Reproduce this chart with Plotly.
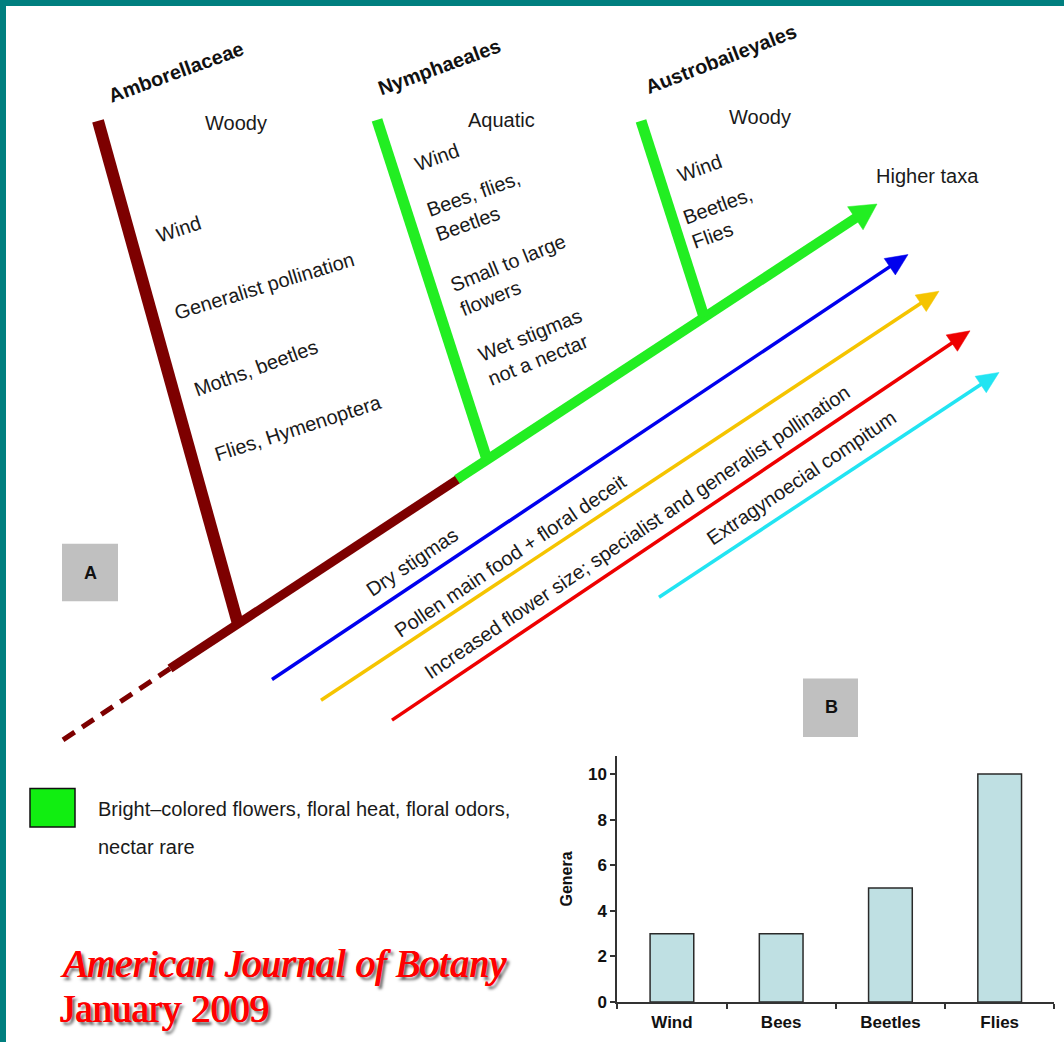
import numpy as np
import plotly.graph_objects as go

W, H = 1064, 1052
SANS = "Liberation Sans, Arial, sans-serif"
SERIF = "Liberation Serif, Times New Roman, serif"

# ---- Panel B data: pollinator classes of basal angiosperm genera ----
pollinators = ["Wind", "Bees", "Beetles", "Flies"]
genera = [3, 3, 5, 10]
genera_ticks = [0, 2, 4, 6, 8, 10]

# ---- Panel A text content ----
clades = ["Amborellaceae", "Nymphaeales", "Austrobaileyales"]
amborella_traits = ["Woody", "Wind", "Generalist pollination", "Moths, beetles", "Flies, Hymenoptera"]
nymphaeales_traits = ["Aquatic", "Wind", "Bees, flies,<br>Beetles", "Small to large<br>flowers",
                      "Wet stigmas<br>not a nectar"]
austro_traits = ["Woody", "Wind", "Beetles,<br>Flies"]
trend_labels = ["Dry stigmas", "Pollen main food + floral deceit",
                "Increased flower size; specialist and generalist pollination",
                "Extragynoecial compitum"]
legend_lines = ["Bright\u2013colored flowers, floral heat, floral odors,", "nectar rare"]

# colours
MAROON = "#7d0000"
GREEN = "#22ee22"
BLUE = "#0000ee"
GOLD = "#f5c400"
RED = "#ee0000"
CYAN = "#22e4f2"
TEAL = "#007f7f"

fig = go.Figure()


def seg(p0, p1, color, width, dash=None):
    fig.add_trace(go.Scatter(
        x=[p0[0], p1[0]], y=[p0[1], p1[1]], mode="lines",
        line=dict(color=color, width=width, dash=dash),
        xaxis="x2", yaxis="y2", hoverinfo="skip", showlegend=False))


def arrow(p0, tip, color, width, head_len, head_w):
    p0 = np.asarray(p0, float)
    tip = np.asarray(tip, float)
    u = (tip - p0) / np.linalg.norm(tip - p0)
    n = np.array([-u[1], u[0]])
    base = tip - head_len * u
    seg(p0, base + 2 * u, color, width)
    tri = np.array([tip, base + n * head_w / 2, base - n * head_w / 2, tip])
    fig.add_trace(go.Scatter(
        x=tri[:, 0], y=tri[:, 1], mode="lines", fill="toself",
        fillcolor=color, line=dict(color=color, width=0.5),
        xaxis="x2", yaxis="y2", hoverinfo="skip", showlegend=False))


# ---- Panel A: phylogeny ----
seg((63, 747), (170, 675), MAROON, 5, dash="14px,9px")
seg((170, 675), (459, 483), MAROON, 9)
arrow((457, 484), (877, 206), GREEN, 10, 26, 28)
seg((98, 122), (238, 630), MAROON, 12)
seg((377, 121), (487, 464), GREEN, 11)
seg((641, 122), (704, 320), GREEN, 11)

# trend arrows under the tree
arrow((272, 686), (908, 257), BLUE, 3.5, 22, 20)
arrow((321, 707), (939, 294), GOLD, 3.5, 22, 20)
arrow((392, 727), (970, 334), RED, 3.5, 22, 20)
arrow((659, 603), (999, 376), CYAN, 3.5, 22, 20)

annotations = []


def label(text, x, y, angle=0, size=20, color="#1a1a1a", family=SANS, bold=False,
          align="center", **kw):
    t = f"<b>{text}</b>" if bold else text
    annotations.append(dict(
        text=t, x=x, y=y, xref="x2", yref="y2", showarrow=False, textangle=angle,
        font=dict(family=family, size=size, color=color),
        align=align, **kw))


# clade names
label(clades[0], 176, 73, -20, 20, bold=True, color="#111")
label(clades[1], 439, 68, -20, 20, bold=True, color="#111")
label(clades[2], 721, 60, -21, 20, bold=True, color="#111")

# Amborellaceae traits
label(amborella_traits[0], 236, 124)
label(amborella_traits[1], 179, 231, -18)
label(amborella_traits[2], 264, 289, -17)
label(amborella_traits[3], 256, 372, -20)
label(amborella_traits[4], 298, 432, -18)

# Nymphaeales traits
label(nymphaeales_traits[0], 501, 121)
label(nymphaeales_traits[1], 437, 158, -20)
label(nymphaeales_traits[2], 478, 208, -20, align="left")
label(nymphaeales_traits[3], 513, 278, -22, align="left")
label(nymphaeales_traits[4], 535, 350, -22, align="left")

# Austrobaileyales traits
label(austro_traits[0], 760, 118)
label(austro_traits[1], 700, 170, -20)
label(austro_traits[2], 722, 220, -20, align="left")

label("Higher taxa", 927, 178)

# trend labels along the arrows
label(trend_labels[0], 412, 567, -34)
label(trend_labels[1], 510, 561, -34)
label(trend_labels[2], 637, 537, -34)
label(trend_labels[3], 801, 483, -34)

# panel letters
label("A", 90, 578, 0, 18, bold=True, color="#111")
label("B", 831, 714, 0, 18, bold=True, color="#111")

# legend for the green clade colour
label(legend_lines[0], 96, 817, 0, 20, xanchor="left")
label(legend_lines[1], 96, 855, 0, 20, xanchor="left")

# y-axis title of panel B
label("Genera", 567, 888, -90, 16, bold=True, color="#111")

# citation, red serif with a soft drop shadow
shadow = ("0.8px 0 0 #ff0000, -0.4px 0 0 #ff0000, "
          "3px 3px 3px rgba(0,0,0,0.65)")
annotations.append(dict(
    text="<i>American Journal of Botany</i>", x=58, y=973, xref="x2", yref="y2",
    showarrow=False, xanchor="left",
    font=dict(family=SERIF, size=39, color="#ff0000", shadow=shadow)))
annotations.append(dict(
    text="January 2009", x=58, y=1019, xref="x2", yref="y2",
    showarrow=False, xanchor="left",
    font=dict(family=SERIF, size=39, color="#ff0000", shadow=shadow)))

shapes = [
    # frame
    dict(type="rect", xref="paper", yref="paper", x0=0, x1=6 / W, y0=0, y1=1,
         fillcolor=TEAL, line_width=0, layer="below"),
    dict(type="rect", xref="paper", yref="paper", x0=0, x1=1, y0=1 - 6 / H, y1=1,
         fillcolor=TEAL, line_width=0, layer="below"),
    # panel letter boxes
    dict(type="rect", xref="x2", yref="y2", x0=62, x1=118, y0=549, y1=607,
         fillcolor="#c0c0c0", line_width=0, layer="below"),
    dict(type="rect", xref="x2", yref="y2", x0=803, x1=858, y0=685, y1=744,
         fillcolor="#c0c0c0", line_width=0, layer="below"),
    # legend swatch
    dict(type="rect", xref="x2", yref="y2", x0=30, x1=75, y0=796, y1=835,
         fillcolor="#11ee11", line=dict(color="#111", width=1.5)),
]

# ---- Panel B: bar chart ----
fig.add_trace(go.Bar(
    x=pollinators, y=genera, width=0.4,
    marker=dict(color="#bfe0e3", line=dict(color="#2a2a2a", width=1.5)),
    hoverinfo="skip", showlegend=False))

axis_font = dict(family=SANS, size=17, color="#111", weight="bold")
fig.update_layout(
    width=W, height=H, margin=dict(l=0, r=0, t=0, b=0),
    paper_bgcolor="white", plot_bgcolor="rgba(0,0,0,0)",
    showlegend=False,
    xaxis=dict(domain=[617.3 / W, 1054.3 / W], anchor="y", type="category",
               range=[-0.5, 3.5], showline=True, linecolor="#333", linewidth=2,
               ticks="outside", tickson="boundaries", ticklen=5, tickwidth=1.5,
               tickcolor="#333", tickfont=axis_font, showgrid=False, zeroline=False,
               ticklabelstandoff=4),
    yaxis=dict(domain=[1 - 1011.7 / H, 1 - 763 / H], anchor="x", range=[0, 10.8],
               tickvals=genera_ticks, showline=True, linecolor="#333", linewidth=2,
               ticks="outside", ticklen=5, tickwidth=1.5, tickcolor="#333",
               tickfont=axis_font, showgrid=False, zeroline=False),
    xaxis2=dict(domain=[0, 1], anchor="y2", range=[0, W], visible=False, fixedrange=True),
    yaxis2=dict(domain=[0, 1], anchor="x2", range=[H, 0], visible=False, fixedrange=True),
    annotations=annotations,
    shapes=shapes,
)

fig.write_html("out.html")
